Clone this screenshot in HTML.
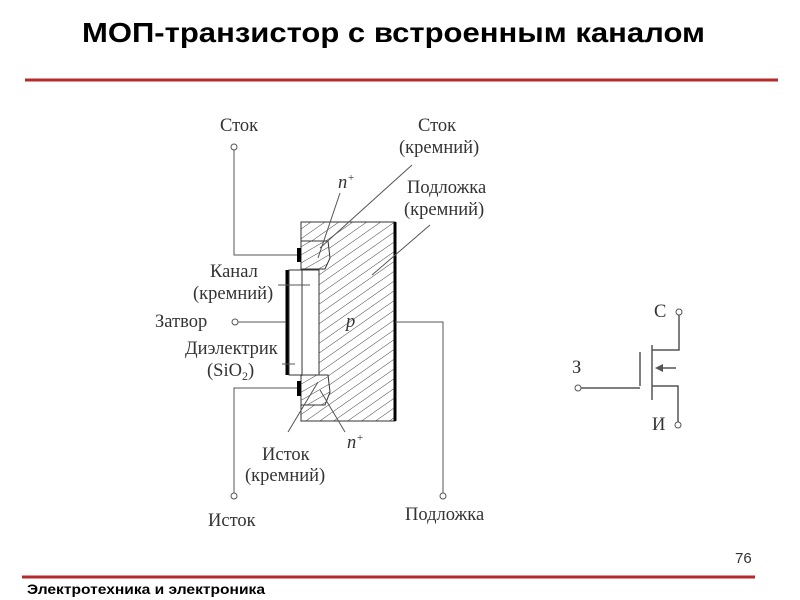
<!DOCTYPE html>
<html><head><meta charset="utf-8"><style>
html,body{margin:0;padding:0;background:#fff;width:800px;height:600px;overflow:hidden}
svg{display:block}
.s{font-family:"Liberation Serif",serif;font-size:18.5px;fill:#333}
</style></head><body>
<svg width="800" height="600" viewBox="0 0 800 600">
<defs>
<pattern id="h" patternUnits="userSpaceOnUse" width="8" height="8" patternTransform="rotate(-35)">
<line x1="0" y1="0" x2="8" y2="0" stroke="#444" stroke-width="1"/>
</pattern>
<pattern id="h2" patternUnits="userSpaceOnUse" width="7" height="7" patternTransform="rotate(-30)">
<line x1="0" y1="0" x2="7" y2="0" stroke="#444" stroke-width="1"/>
</pattern>
</defs>
<text x="82" y="42" textLength="623" lengthAdjust="spacingAndGlyphs" font-family="Liberation Sans,sans-serif" font-weight="bold" font-size="28" fill="#000">МОП-транзистор с встроенным каналом</text>
<line x1="25" y1="80" x2="778" y2="80" stroke="#b52a2a" stroke-width="3"/>
<line x1="22" y1="577" x2="755" y2="577" stroke="#b52a2a" stroke-width="3"/>
<text x="735" y="563" font-family="Liberation Sans,sans-serif" font-size="15" fill="#333">76</text>
<text x="27" y="594" textLength="238" lengthAdjust="spacingAndGlyphs" font-family="Liberation Sans,sans-serif" font-weight="bold" font-size="14" fill="#000">Электротехника и электроника</text>

<rect x="301" y="222" width="94" height="199" fill="url(#h)" stroke="#333" stroke-width="1"/>
<line x1="395" y1="222" x2="395" y2="421" stroke="#000" stroke-width="3"/>
<rect x="289" y="270" width="30" height="105" fill="#fff" stroke="#333" stroke-width="1"/>
<line x1="302" y1="270" x2="302" y2="375" stroke="#333"/>
<line x1="287" y1="270" x2="287" y2="375" stroke="#000" stroke-width="3"/>
<path d="M301 241 H328 L330 258 L325 269 H301 Z" fill="#fff"/>
<path d="M301 241 H328 L330 258 L325 269 H301 Z" fill="url(#h2)" stroke="#333"/>
<path d="M301 375 H328 L330 392 L325 405 H301 Z" fill="#fff"/>
<path d="M301 375 H328 L330 392 L325 405 H301 Z" fill="url(#h2)" stroke="#333"/>
<rect x="297" y="248" width="4" height="14" fill="#000"/>
<rect x="297" y="381" width="4" height="15" fill="#000"/>
<g stroke="#555" stroke-width="1" fill="none">
<path d="M234 150 V255 H297"/>
<path d="M234 493 V388 H297"/>
<path d="M238 322 H286"/>
<path d="M395 322 H443 V493"/>
<circle cx="234" cy="147" r="3" fill="#fff"/>
<circle cx="234" cy="496" r="3" fill="#fff"/>
<circle cx="235" cy="322" r="3" fill="#fff"/>
<circle cx="443" cy="496" r="3" fill="#fff"/>
<line x1="340" y1="193" x2="318" y2="258"/>
<line x1="412" y1="165" x2="320" y2="248"/>
<line x1="430" y1="225" x2="372" y2="275"/>
<line x1="278" y1="285" x2="310" y2="285"/>
<line x1="282" y1="364" x2="295" y2="364"/>
<line x1="288" y1="432" x2="318" y2="382"/>
<line x1="345" y1="432" x2="320" y2="390"/>
</g>
<text class="s" x="220" y="131">Сток</text>
<text class="s" x="418" y="131">Сток</text>
<text class="s" x="399" y="153">(кремний)</text>
<text class="s" x="338" y="188" font-style="italic" fill="#555">n<tspan font-size="11" dy="-7">+</tspan></text>
<text class="s" x="407" y="193">Подложка</text>
<text class="s" x="404" y="215">(кремний)</text>
<text class="s" x="210" y="277">Канал</text>
<text class="s" x="193" y="299">(кремний)</text>
<text class="s" x="155" y="327">Затвор</text>
<text class="s" x="346" y="327" font-style="italic" fill="#555">p</text>
<text class="s" x="185" y="354">Диэлектрик</text>
<text class="s" x="207" y="376">(SiO<tspan font-size="12" dy="4">2</tspan><tspan dy="-4">)</tspan></text>
<text class="s" x="347" y="448" font-style="italic" fill="#555">n<tspan font-size="11" dy="-7">+</tspan></text>
<text class="s" x="262" y="460">Исток</text>
<text class="s" x="245" y="481">(кремний)</text>
<text class="s" x="208" y="526">Исток</text>
<text class="s" x="405" y="520">Подложка</text>

<g stroke="#555" stroke-width="1.5" fill="none">
<path d="M679 315 V350 H652"/>
<path d="M678 422 V386 H652"/>
<line x1="652" y1="345" x2="652" y2="400"/>
<line x1="640" y1="352" x2="640" y2="386"/>
<path d="M581 388 H640"/>
<line x1="676" y1="368" x2="658" y2="368"/>
<circle cx="679" cy="312" r="3" fill="#fff" stroke-width="1"/>
<circle cx="678" cy="425" r="3" fill="#fff" stroke-width="1"/>
<circle cx="578" cy="388" r="3" fill="#fff" stroke-width="1"/>
</g>
<path d="M655 368 L663 364 L663 372 Z" fill="#555"/>
<text class="s" x="654" y="317" font-size="18">С</text>
<text class="s" x="572" y="373" font-size="18">З</text>
<text class="s" x="652" y="430" font-size="18">И</text>
</svg>
</body></html>
